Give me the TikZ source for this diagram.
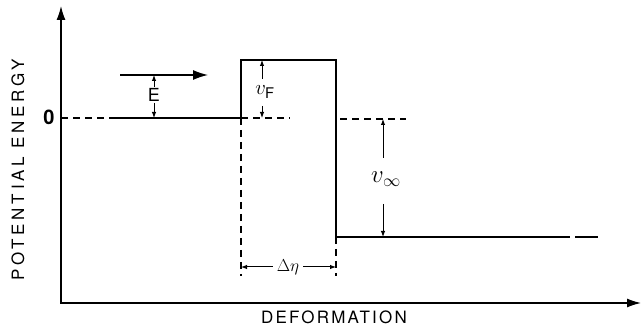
\documentclass[tikz,border=0pt]{standalone}
\usepackage{fontspec}
\setsansfont{TeX Gyre Heros}
\newfontfamily\xaxisfont[LetterSpace=13]{TeX Gyre Heros}
\newfontfamily\yaxisfont[LetterSpace=22]{TeX Gyre Heros}
\usetikzlibrary{arrows.meta}

\begin{document}
\begin{tikzpicture}[x=1pt,y=-1pt,
    every node/.style={font=\sffamily\fontsize{18}{20}\selectfont},
    axis/.style={line width=1.4pt},
    curve/.style={line width=2.3pt},
    guide/.style={line width=1.1pt,dash pattern=on 7pt off 5pt},
    dim/.style={line width=1pt,-{Latex[length=6pt,width=4.5pt]}}
]
\useasboundingbox (0,0) rectangle (642,328);

% axes
\coordinate (ytop) at (61,6);
\coordinate (o) at (61,303);
\coordinate (xend) at (641,303);
\draw[axis,{Latex[length=14pt,width=9pt]}-{Latex[length=14pt,width=9pt]}] (ytop) -- (o) -- (xend);

\node[font=\yaxisfont\fontsize{17}{19}\selectfont,rotate=90] (ylab) at (18,170) {POTENTIAL ENERGY};
\node[font=\xaxisfont\fontsize{17}{19}\selectfont] (xlab) at (334,317) {DEFORMATION};
\node[font=\sffamily\bfseries\fontsize{20}{22}\selectfont] (zero) at (49,117) {0};

% zero level
\coordinate (z0) at (61,118);
\coordinate (z1) at (115,118);
\coordinate (bl) at (241,118);
\coordinate (z2) at (290,118);
\coordinate (z3) at (340,119);
\coordinate (z4) at (406,119);
\draw[guide] (z0) -- (z1);
\draw[guide] (bl) -- (z2);
\draw[guide] (z3) -- (z4);

% potential
\coordinate (tl) at (241,60);
\coordinate (tr) at (336,60);
\coordinate (br) at (336,237);
\coordinate (e1) at (570,237);
\coordinate (e2) at (575,237);
\coordinate (e3) at (598,237);
\draw[curve] (z1) -- (bl) -- (tl) -- (tr) -- (br) -- (e1);
\draw[curve] (e2) -- (e3);

% incoming energy
\coordinate (in1) at (120,75);
\coordinate (in2) at (208,75);
\draw[line width=1.3pt,-{Latex[length=15pt,width=10pt]}] (in1) -- (in2);

\node[inner sep=1pt] (E) at (154,95) {E};
\coordinate (Et) at (154,75);
\coordinate (Eb) at (154,118);
\draw[dim] (E.north) -- (Et);
\draw[dim] (E.south) -- (Eb);

% barrier height
\node (vF) at (265,92) {\fontsize{21}{23}\selectfont$v_{\mathsf{F}}$};
\coordinate (vFt) at (262,60);
\coordinate (vFb) at (262,118);
\draw[dim] (262,79) -- (vFt);
\draw[dim] (262,106) -- (vFb);

% drop
\node (vinf) at (386,179) {\fontsize{24}{26}\selectfont$v_{\infty}$};
\coordinate (vit) at (383,119);
\coordinate (vib) at (383,237);
\draw[dim] (383,158) -- (vit);
\draw[dim] (383,204) -- (vib);

% width
\coordinate (wl) at (241,276);
\coordinate (wr) at (336,276);
\draw[guide] (bl) -- (wl);
\draw[guide] (br) -- (wr);
\node[inner sep=4pt] (deta) at (288,267) {\fontsize{16}{18}\selectfont$\Delta\eta$};
\draw[dim] (deta.west) -- (241,267);
\draw[dim] (deta.east) -- (336,267);

\end{tikzpicture}
\end{document}
